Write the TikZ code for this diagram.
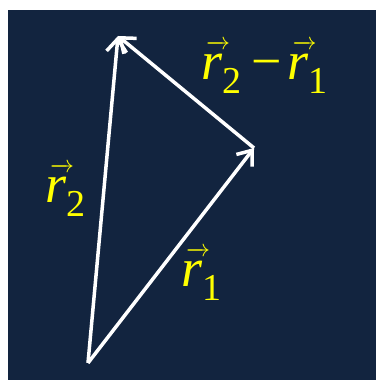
\documentclass[tikz,border=0pt]{standalone}
\usepackage{amsmath}
\usepackage{graphicx}
\usepackage{fontspec}
\setmainfont{LiberationSerif}[Extension=.ttf, UprightFont=*-Regular,
  ItalicFont=*-Italic, BoldFont=*-Bold, BoldItalicFont=*-BoldItalic]
\usetikzlibrary{arrows.meta}
\definecolor{inkbg}{HTML}{12243F}
\definecolor{inkvec}{HTML}{FFFFFF}
\definecolor{inklabel}{HTML}{FFFF00}
\newcommand{\rvec}[1]{%
  \makebox[0pt][l]{\hspace{5pt}\raisebox{30pt}{%
    \scalebox{2}{\fontsize{11.5}{12}\selectfont$\overrightarrow{\hbox to 7pt{}}$}}}%
  {\itshape r}\raisebox{-14pt}{\fontsize{38}{38}\selectfont #1}}
\tikzset{
  vecarrow/.style={-{Straight Barb[length=13pt, width=20pt, line width=3.5pt]},
                   draw=inkvec, line width=3.5pt},
  veclabel/.style={text=inklabel, font=\fontsize{54}{58}\selectfont,
                   inner sep=0pt, anchor=base west}
}

\begin{document}
\begin{tikzpicture}[x=1pt, y=1pt]
      \useasboundingbox (0,0) rectangle (376,380);
      \fill[inkbg] (8,0) rectangle (376,370);
      \coordinate (o) at (88,17);
      \coordinate (p1) at (254,232);
      \coordinate (p2) at (118,344);
      \node[veclabel] (l2) at (45,177) {\rvec{2}};
      \node[veclabel] (l1) at (181,93) {\rvec{1}};
      \node[veclabel] (l21) at (201,300) {\rvec{2}\hspace{10pt}−\hspace{6pt}\rvec{1}};
      \draw[vecarrow] (o) -- (p1);
      \draw[vecarrow] (o) -- (p2);
      \draw[vecarrow] (p1) -- (p2);
    \end{tikzpicture}
\end{document}
